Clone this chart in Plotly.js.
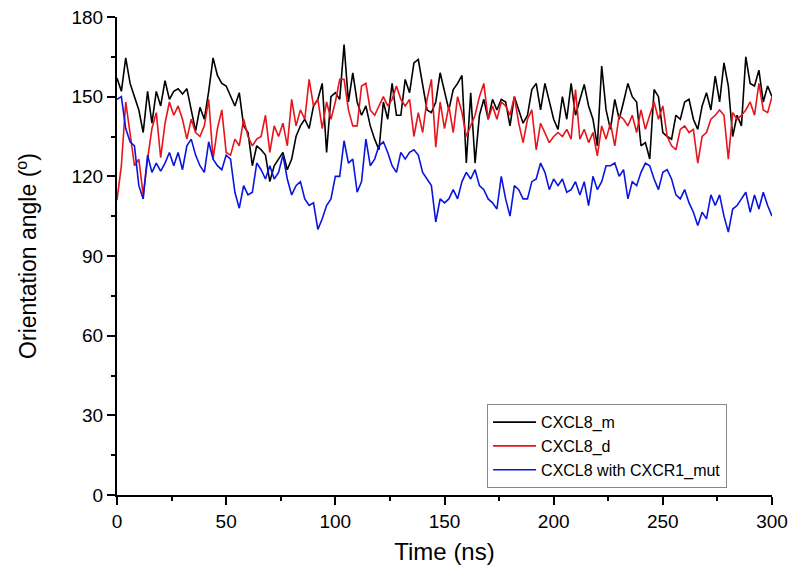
<!DOCTYPE html>
<html><head><meta charset="utf-8">
<script src="https://cdn.plot.ly/plotly-3.0.1.min.js"></script>
<style>html,body{margin:0;padding:0;background:#fff}</style>
</head><body><div id="chart" style="width:797px;height:582px"></div>
<script>
const timeStep = 2; // ns between samples
const seriesNames = ["CXCL8_m", "CXCL8_d", "CXCL8 with CXCR1_mut"];
const seriesColors = ["#000000", "#e8141b", "#0a14e0"];

const cxcl8_m = [
157,152,164.6,155,150,145,136.5,152,140,152,146.5,156,149,152,153,151,153,145,137,146,141.5,152,164.6,158,155,154,
150,146.5,151.5,139,136.5,124,131.5,130,128,118,124,126.5,129,122.5,126.5,135,139,141.5,138,146.5,149,155,129,150,151.5,
149,169.6,148,159,148,143,146.5,139,134,130,148,141.5,155,143,143,156.5,151.5,162.7,164,154,145,144,148,159,151.5,
145,152.7,155,158,125,151.5,125,143,149,141.5,149,145,149,148,139,150,145,140,143,152.7,155,145,155,148,141.5,
137.7,150,141.5,155,143,149,154.6,146.5,141.5,131.5,161.5,145,137.7,149,141.5,148,155,150,148,131.5,132.7,126.5,152.7,150,136.5,
135,134,143,141.5,148,149,141.5,137.7,146.5,151.5,145,157.7,148,162.7,154,135,143,139,165,155,154,160,148,154,150
];
const cxcl8_d = [
111,124,148,135,124,126.5,113,126.5,138,144,127,140,148,143,146.5,141.5,134,141.5,136.5,135,139,149,126.5,138,145,129,
128,134,131.5,141.5,135,131.5,134,135,143,129,139,135,140,131.5,149,139,145,141.5,156.5,146.5,149,138,148,141.5,148,
156.5,156.5,145,139,139,154,155,145,143,146.5,150,146.5,149,154,149,146.5,149,135,144,136.5,149,156.5,131,148,138,
146.5,136.5,150,144,135,139,143,150,155,141.5,146.5,141.5,148,146.5,143,150,140,132.7,141.5,145,130,140,136.5,132.7,135,
136.5,135,137.7,134,152.7,134,137.7,132.7,136.5,127.7,139,134,140,131.5,143,141.5,139,143,136.5,145,137.7,143,148,141.5,146.5,
135,131.5,130,137.7,139,136.5,137.7,125,135,136.5,141.5,143,145,143,126.5,144,141.5,143,145,148,143,155,145,144,150
];
const cxcl8_mut = [
149,150,138,133,131.5,116.5,111.5,128,121.5,125,122,125,129,124,129,122.5,131.5,134,128,124,121.5,133,126.5,124,122.5,128,
126.5,114,108,116.5,113,114,125,122.5,119,124,119,121.5,128,119,113,116.5,118,111.5,109,110,100,104,109,111.5,120,
120,133.4,125,126.5,114,118,134,124,126.5,131.5,133,129,124,121.5,129,126.5,129,130,128,121.5,119,116.5,102.8,111.5,110,
111.5,115,111.5,118,121.5,119,122.5,116.5,115,111.5,110,107.7,120,111.5,105,116.5,115,111.5,111.5,118,119,125,121.5,115,119,
116.5,119,114,115,118,113,118,109,120,115,118,124,124,125,120,122.5,111.5,118,116.5,121.5,125,124,119,115,121.5,
122.5,119,113,111.5,115,110,106.5,101.5,106.5,104,113,109,113,105,99,107.7,109,111.5,114,106.5,113,107.7,114,109,105
];
const xTicks = [0, 50, 100, 150, 200, 250, 300];
const yTicks = [0, 30, 60, 90, 120, 150, 180];

const allSeries = [cxcl8_m, cxcl8_d, cxcl8_mut];
const traces = allSeries.map((vals, k) => ({
  type: 'scatter', mode: 'lines',
  x: vals.map((_, i) => i * timeStep), y: vals,
  name: seriesNames[k],
  line: {color: seriesColors[k], width: 1.6}
}));

const font = 'Liberation Sans, Arial, sans-serif';
const axisBase = {
  showline: true, linewidth: 2, linecolor: '#000', zeroline: false, showgrid: false,
  ticks: 'outside', ticklen: 8, tickwidth: 2, tickcolor: '#000',
  tickfont: {family: font, size: 19, color: '#000'}
};
const layout = {
  width: 797, height: 582,
  margin: {l: 117, r: 25, t: 17, b: 87},
  paper_bgcolor: '#fff', plot_bgcolor: '#fff',
  font: {family: font, color: '#000'},
  showlegend: true,
  legend: {x: 0.565, y: 0.19, xanchor: 'left', yanchor: 'top',
    bordercolor: '#888', borderwidth: 1, bgcolor: '#fff', itemwidth: 43,
    font: {family: font, size: 16, color: '#000'}, tracegroupgap: 0},
  xaxis: Object.assign({}, axisBase, {
    range: [0, 300], tickvals: xTicks, ticktext: xTicks.map(String),
    minor: {dtick: 25, tick0: 0, ticks: 'outside', ticklen: 4, tickwidth: 2, tickcolor: '#000'},
    title: {text: 'Time (ns)', font: {family: font, size: 24}, standoff: 12}
  }),
  yaxis: Object.assign({}, axisBase, {
    range: [0, 180], tickvals: yTicks, ticktext: yTicks.map(String),
    minor: {dtick: 15, tick0: 0, ticks: 'outside', ticklen: 4, tickwidth: 2, tickcolor: '#000'},
    title: {text: 'Orientation angle (<sup>o</sup>)', font: {family: font, size: 23}, standoff: 28}
  }),
  xaxis2: {overlaying: 'x', side: 'top', range: [0, 300], showline: true, linewidth: 2, linecolor: '#000',
    ticks: 'inside', ticklen: 8, tickwidth: 2, tickcolor: '#000', tickvals: xTicks, showticklabels: false,
    minor: {dtick: 25, tick0: 0, ticks: 'inside', ticklen: 4, tickwidth: 2, tickcolor: '#000'},
    zeroline: false, showgrid: false, anchor: 'y'},
  yaxis2: {overlaying: 'y', side: 'right', range: [0, 180], showline: true, linewidth: 2, linecolor: '#000',
    ticks: 'inside', ticklen: 8, tickwidth: 2, tickcolor: '#000', tickvals: yTicks, showticklabels: false,
    minor: {dtick: 15, tick0: 0, ticks: 'inside', ticklen: 4, tickwidth: 2, tickcolor: '#000'},
    zeroline: false, showgrid: false, anchor: 'x'}
};
Plotly.newPlot('chart', traces, layout, {displayModeBar: false, staticPlot: true});
</script></body></html>
